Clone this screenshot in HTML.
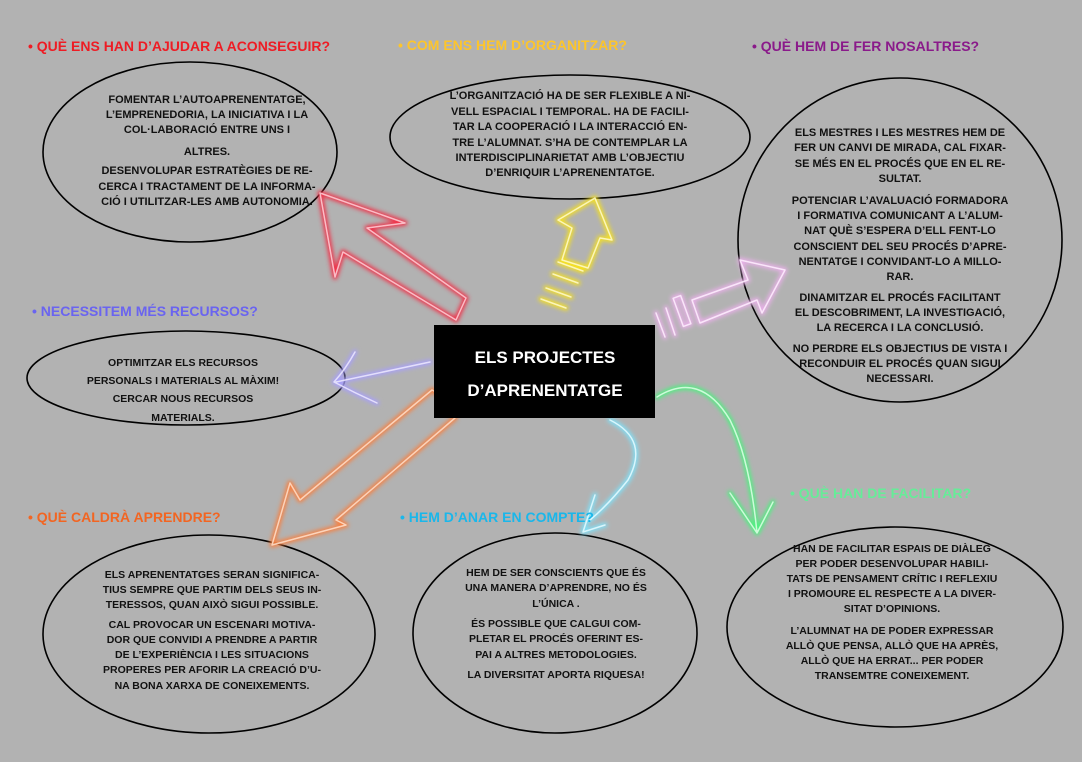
<!DOCTYPE html>
<html><head><meta charset="utf-8"><style>
html,body{margin:0;padding:0;background:#b2b2b2}
svg{display:block}
.b{font-family:"Liberation Sans",sans-serif;font-weight:bold;font-size:10.5px;fill:#111;text-anchor:middle}
.h{font-family:"Liberation Sans",sans-serif;font-weight:bold;font-size:14px}
.n{font-family:"Liberation Sans",sans-serif;font-weight:bold;font-size:11px;fill:#111;text-anchor:middle}
</style></head><body>
<svg width="1082" height="762" viewBox="0 0 1082 762" xmlns="http://www.w3.org/2000/svg">
<defs>
<filter id="bl" x="-30%" y="-30%" width="160%" height="160%"><feGaussianBlur stdDeviation="2"/></filter>
<g id="red"><polygon points="320,193 405,223 367,228 466,298 456,320 343,252 335,277"/></g>
<g id="yel"><polygon points="595,198 612,240 600,238 588,268 562,260 572,228 558,220"/>
<line x1="558" y1="262" x2="583" y2="271"/><line x1="553" y1="274" x2="578" y2="283"/>
<line x1="546" y1="288" x2="571" y2="297"/><line x1="541" y1="299" x2="566" y2="308"/></g>
<g id="pink"><polygon points="785,270 762,313 757,300 700,323 692,300 748,280 740,260"/>
<rect x="678" y="296" width="8" height="30" transform="rotate(-20 682 311)"/>
<line x1="666" y1="308" x2="675" y2="335"/><line x1="656" y1="313" x2="665" y2="337"/></g>
<g id="pur"><path d="M430,362 L336,382 M355,352 Q345,370 334,382 Q355,393 377,403"/></g>
<g id="ora"><polygon points="448,398 455,418 336,520 346,525 272,545 290,483 300,500 432,390"/></g>
<g id="cya"><path d="M610,420 Q650,440 628,480 Q608,505 590,520 M595,495 L583,532 L605,525"/></g>
<g id="grn"><path d="M657,397 Q700,370 730,420 Q750,460 757,533 M730,493 L757,533 L773,502"/></g>
</defs>
<rect width="1082" height="762" fill="#b2b2b2"/>
<g fill="none" stroke="#000" stroke-width="1.6">
<ellipse cx="190" cy="152" rx="147" ry="90"/>
<ellipse cx="570" cy="137" rx="180" ry="62"/>
<ellipse cx="900" cy="240" rx="162" ry="162"/>
<ellipse cx="186" cy="378" rx="159" ry="47"/>
<ellipse cx="209" cy="634" rx="166" ry="99"/>
<ellipse cx="555" cy="633" rx="142" ry="100"/>
<ellipse cx="895" cy="627" rx="168" ry="100"/>
</g>
<g fill="none" stroke-width="5" stroke-linejoin="round" stroke-linecap="round" filter="url(#bl)">
<use href="#red" stroke="#f03048"/>
<use href="#yel" stroke="#f5e020"/>
<use href="#pink" stroke="#e8b0e8"/>
<use href="#pur" stroke="#a8a0f8"/>
<use href="#ora" stroke="#f88040"/>
<use href="#cya" stroke="#80e0f8"/>
<use href="#grn" stroke="#50f080"/>
</g>
<g fill="none" stroke-width="1.5" stroke-linejoin="round" stroke-linecap="round" opacity="0.85">
<use href="#red" stroke="#ffd0d8"/>
<use href="#yel" stroke="#fffbd0"/>
<use href="#pink" stroke="#fff0ff"/>
<use href="#pur" stroke="#eeeaff"/>
<use href="#ora" stroke="#ffe0cc"/>
<use href="#cya" stroke="#e8fbff"/>
<use href="#grn" stroke="#e0ffe8"/>
</g>
<rect x="434" y="325" width="221" height="93" fill="#000"/>
<text x="545" y="363" text-anchor="middle" font-family="Liberation Sans,sans-serif" font-weight="bold" font-size="17" fill="#fff">ELS PROJECTES</text>
<text x="545" y="396" text-anchor="middle" font-family="Liberation Sans,sans-serif" font-weight="bold" font-size="17" fill="#fff">D’APRENENTATGE</text>
<text class="h" x="28" y="51" fill="#ee1c24">•  QUÈ ENS HAN D’AJUDAR A ACONSEGUIR?</text>
<text class="h" x="398" y="50" fill="#fdc52b">•  COM ENS HEM D’ORGANITZAR?</text>
<text class="h" x="752" y="51" fill="#8a1a8a">•  QUÈ HEM DE FER NOSALTRES?</text>
<text class="h" x="32" y="316" fill="#6a64f0">•  NECESSITEM MÉS RECURSOS?</text>
<text class="h" x="28" y="522" fill="#f26522">•  QUÈ CALDRÀ APRENDRE?</text>
<text class="h" x="400" y="522" fill="#1ab7ea">•  HEM D’ANAR EN COMPTE?</text>
<text class="h" x="790" y="498" fill="#66ec98">•  QUÈ HAN DE FACILITAR?</text>
<text class="n"><tspan x="207" y="103">FOMENTAR L’AUTOAPRENENTATGE,</tspan><tspan x="207" y="118">L’EMPRENEDORIA, LA INICIATIVA I LA</tspan><tspan x="207" y="133">COL·LABORACIÓ ENTRE UNS I</tspan><tspan x="207" y="155">ALTRES.</tspan><tspan x="207" y="174">DESENVOLUPAR ESTRATÈGIES DE RE-</tspan><tspan x="207" y="190">CERCA I TRACTAMENT DE LA INFORMA-</tspan><tspan x="207" y="205">CIÓ I UTILITZAR-LES AMB AUTONOMIA.</tspan></text>
<text class="n"><tspan x="570" y="99">L’ORGANITZACIÓ HA DE SER FLEXIBLE A NI-</tspan><tspan x="570" y="115">VELL ESPACIAL I TEMPORAL. HA DE FACILI-</tspan><tspan x="570" y="130">TAR LA COOPERACIÓ I LA INTERACCIÓ EN-</tspan><tspan x="570" y="146">TRE L’ALUMNAT. S’HA DE CONTEMPLAR LA</tspan><tspan x="570" y="161">INTERDISCIPLINARIETAT AMB L’OBJECTIU</tspan><tspan x="570" y="176">D’ENRIQUIR L’APRENENTATGE.</tspan></text>
<text class="n"><tspan x="900" y="136">ELS MESTRES I LES MESTRES HEM DE</tspan><tspan x="900" y="151">FER UN CANVI DE MIRADA, CAL FIXAR-</tspan><tspan x="900" y="167">SE MÉS EN EL PROCÉS QUE EN EL RE-</tspan><tspan x="900" y="182">SULTAT.</tspan><tspan x="900" y="204">POTENCIAR L’AVALUACIÓ FORMADORA</tspan><tspan x="900" y="219">I FORMATIVA COMUNICANT A L’ALUM-</tspan><tspan x="900" y="234">NAT QUÈ S’ESPERA D’ELL FENT-LO</tspan><tspan x="900" y="250">CONSCIENT DEL SEU PROCÉS D’APRE-</tspan><tspan x="900" y="265">NENTATGE I CONVIDANT-LO A MILLO-</tspan><tspan x="900" y="280">RAR.</tspan><tspan x="900" y="301">DINAMITZAR EL PROCÉS FACILITANT</tspan><tspan x="900" y="316">EL DESCOBRIMENT, LA INVESTIGACIÓ,</tspan><tspan x="900" y="331">LA RECERCA I LA CONCLUSIÓ.</tspan><tspan x="900" y="352">NO PERDRE ELS OBJECTIUS DE VISTA I</tspan><tspan x="900" y="367">RECONDUIR EL PROCÉS QUAN SIGUI</tspan><tspan x="900" y="382">NECESSARI.</tspan></text>
<text class="b"><tspan x="183" y="366">OPTIMITZAR ELS RECURSOS</tspan><tspan x="183" y="384">PERSONALS  I MATERIALS AL MÀXIM!</tspan><tspan x="183" y="402">CERCAR NOUS RECURSOS</tspan><tspan x="183" y="421">MATERIALS.</tspan></text>
<text class="b"><tspan x="212" y="578">ELS APRENENTATGES SERAN SIGNIFICA-</tspan><tspan x="212" y="593">TIUS SEMPRE QUE PARTIM DELS SEUS IN-</tspan><tspan x="212" y="608">TERESSOS, QUAN AIXÒ SIGUI POSSIBLE.</tspan><tspan x="212" y="628">CAL  PROVOCAR UN ESCENARI MOTIVA-</tspan><tspan x="212" y="643">DOR QUE CONVIDI A PRENDRE A PARTIR</tspan><tspan x="212" y="658">DE L’EXPERIÈNCIA I LES SITUACIONS</tspan><tspan x="212" y="673">PROPERES PER AFORIR LA CREACIÓ D’U-</tspan><tspan x="212" y="689">NA BONA XARXA DE CONEIXEMENTS.</tspan></text>
<text class="b"><tspan x="556" y="576">HEM DE SER CONSCIENTS QUE ÉS</tspan><tspan x="556" y="591">UNA MANERA D’APRENDRE, NO ÉS</tspan><tspan x="556" y="607">L’ÚNICA .</tspan><tspan x="556" y="627">ÉS POSSIBLE QUE CALGUI COM-</tspan><tspan x="556" y="642">PLETAR EL PROCÉS OFERINT ES-</tspan><tspan x="556" y="658">PAI A ALTRES METODOLOGIES.</tspan><tspan x="556" y="678">LA DIVERSITAT APORTA RIQUESA!</tspan></text>
<text class="b"><tspan x="892" y="552">HAN DE FACILITAR ESPAIS DE DIÀLEG</tspan><tspan x="892" y="567">PER PODER DESENVOLUPAR HABILI-</tspan><tspan x="892" y="582">TATS DE PENSAMENT CRÍTIC I REFLEXIU</tspan><tspan x="892" y="597">I PROMOURE EL RESPECTE A LA DIVER-</tspan><tspan x="892" y="612">SITAT D’OPINIONS.</tspan><tspan x="892" y="634">L’ALUMNAT HA DE PODER EXPRESSAR</tspan><tspan x="892" y="649">ALLÒ QUE PENSA, ALLÒ QUE HA APRÈS,</tspan><tspan x="892" y="664">ALLÒ QUE HA ERRAT...  PER PODER</tspan><tspan x="892" y="679">TRANSEMTRE CONEIXEMENT.</tspan></text>
</svg>
</body></html>
